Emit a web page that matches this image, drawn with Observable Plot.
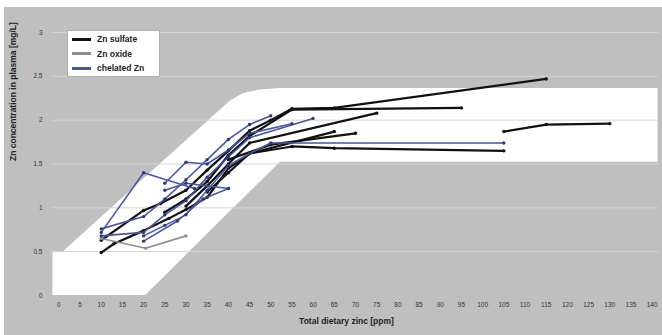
<!DOCTYPE html>
<html>
<head>
<meta charset="utf-8">
<script src="https://cdn.jsdelivr.net/npm/d3@7"></script>
<script src="https://cdn.jsdelivr.net/npm/@observablehq/plot@0.6"></script>
<style>
  html, body { margin: 0; padding: 0; background: #ffffff; }
  #wrap { position: relative; width: 662px; height: 335px; overflow: hidden; font-family: "Liberation Sans", Arial, sans-serif; }
  #wrap svg { display: block; background: #bfbfbf; }
  .strip { position: absolute; background: #ffffff; }
  #legend { position: absolute; left: 67px; top: 30px; width: 93px; height: 47px; background: #ffffff; border: 1px solid #b0b0b0; box-sizing: border-box; }
  .item { position: absolute; left: 4px; height: 10px; display: flex; align-items: center; font-size: 8.5px; font-weight: bold; color: #222; white-space: nowrap; }
  .sw { display: inline-block; width: 19px; height: 3px; margin-right: 6px; }
</style>
</head>
<body>
<div id="wrap"></div>
<script>
// ---- tick labels ----
const xTicks = [0,5,10,15,20,25,30,35,40,45,50,55,60,65,70,75,80,85,90,95,100,105,110,115,120,125,130,135,140];
const yTicks = [0,0.5,1,1.5,2,2.5,3];
const yGrid = [0.5,1,1.5,2,2.5,3];

// ---- background plateau band (white area) ----
const bandX    = [-1.4, 0.9, 20.5, 40.5, 43.5, 47, 52.3, 141.4];
const bandLow  = [0,    0,   0,    0.96, 1.10, 1.27, 1.52, 1.52];
const bandHigh = [0.49, 0.49, 1.35, 2.22, 2.30, 2.34, 2.36, 2.36];

// ---- series: Zn sulfate (black) ----
const sulfateA = [[10,0.49],[13,0.59],[20,0.74],[26,0.88],[30,0.98],[35,1.12],[40,1.45],[45,1.62],[55,1.70],[65,1.68],[105,1.65]];
const sulfateB = [[10,0.63],[20,0.97],[24,1.05],[30,1.2],[35,1.43],[40,1.65],[45,1.88],[50,2.0],[55,2.13],[65,2.14],[115,2.47]];
const sulfateC = [[25,0.95],[30,1.1],[35,1.3],[40,1.6],[45,1.82],[55,2.12],[95,2.14]];
const sulfateD = [[30,1.02],[35,1.25],[40,1.5],[45,1.74],[75,2.08]];
const sulfateE = [[35,1.18],[40,1.4],[45,1.62],[65,1.87]];
const sulfateF = [[40,1.55],[50,1.72],[70,1.85]];
const sulfateG = [[105,1.87],[115,1.95],[130,1.96]];

// ---- series: Zn oxide (gray) ----
const oxideA = [[10,0.65],[20.5,0.54],[30,0.68]];

// ---- series: chelated Zn (blue) ----
const chelA = [[10,0.72],[20,1.40],[32,1.22]];
const chelB = [[10,0.76],[20,0.9],[25,1.1],[30,1.32],[35,1.55],[40,1.78],[45,1.95],[50,2.05]];
const chelC = [[10,0.68],[20,0.72],[25,0.92],[30,1.08],[35,1.35],[40,1.58],[45,1.8],[60,2.02]];
const chelD = [[20,0.68],[25,0.8],[30,0.92],[35,1.2],[40,1.48],[45,1.62],[50,1.74],[105,1.74]];
const chelE = [[25,1.28],[30,1.52],[35,1.5],[40,1.66],[45,1.85],[55,1.96]];
const chelF = [[20,0.62],[28,0.85],[34,1.1],[40,1.22]];
const chelG = [[25,1.2],[30,1.28],[40,1.22]];

(function () {
  const groups = [
    {name: "Zn sulfate", color: "#111111", dot: "#111111", width: 2.2, series: {sulfateA, sulfateB, sulfateC, sulfateD, sulfateE, sulfateF, sulfateG}},
    {name: "Zn oxide", color: "#8e8e8e", dot: "#8e8e8e", width: 1.6, series: {oxideA}},
    {name: "chelated Zn", color: "#4757a6", dot: "#2d3a7a", width: 1.6, series: {chelA, chelB, chelC, chelD, chelE, chelF, chelG}}
  ];

  const band = bandX.map((x, i) => ({x, lo: bandLow[i], hi: bandHigh[i]}));

  const marks = [
    Plot.areaY(band, {x: "x", y1: "lo", y2: "hi", fill: "#ffffff"}),
    Plot.ruleY(yGrid, {stroke: "#d3d3d3", strokeWidth: 1})
  ];
  for (const g of groups) {
    const rows = [];
    for (const [id, pts] of Object.entries(g.series)) {
      for (const [x, y] of pts) rows.push({id, x, y});
    }
    marks.push(Plot.line(rows, {x: "x", y: "y", z: "id", stroke: g.color, strokeWidth: g.width, strokeLinejoin: "round"}));
    marks.push(Plot.dot(rows, {x: "x", y: "y", r: 1.7, fill: g.dot}));
  }
  marks.push(Plot.text(["Total dietary zinc [ppm]"], {frameAnchor: "bottom", dy: 28, dx: -9, fontSize: 8.5, fontWeight: "bold", fill: "#222"}));
  marks.push(Plot.text(["Zn concentration in plasma [mg/L]"], {frameAnchor: "left", rotate: -90, dx: -39, dy: -3, fontSize: 8.5, fontWeight: "bold", fill: "#222"}));

  const chart = Plot.plot({
    width: 662,
    height: 335,
    marginLeft: 52,
    marginRight: 4,
    marginTop: 32,
    marginBottom: 40,
    style: {fontFamily: "Liberation Sans, Arial, sans-serif", color: "#333", background: "#bfbfbf"},
    x: {domain: [-1.5, 141.5], ticks: xTicks, tickSize: 0, tickPadding: 7, label: null, tickFormat: d => String(d)},
    y: {domain: [0, 3], ticks: yTicks, tickSize: 0, tickPadding: 10, label: null, tickFormat: d => String(d)},
    marks
  });
  chart.querySelectorAll("g[aria-label='x-axis tick label'], g[aria-label='y-axis tick label']").forEach(g => g.setAttribute("font-size", "6.5"));

  const wrap = document.getElementById("wrap");
  wrap.appendChild(chart);

  const topStrip = document.createElement("div");
  topStrip.className = "strip"; topStrip.style.cssText = "left:0;top:0;width:662px;height:7px;";
  wrap.appendChild(topStrip);
  const leftStrip = document.createElement("div");
  leftStrip.className = "strip"; leftStrip.style.cssText = "left:0;top:0;width:4px;height:335px;";
  wrap.appendChild(leftStrip);

  const legend = document.createElement("div");
  legend.id = "legend";
  groups.forEach((g, i) => {
    const it = document.createElement("div");
    it.className = "item";
    it.style.top = (3 + i * 14.5) + "px";
    const sw = document.createElement("span");
    sw.className = "sw"; sw.style.background = g.color;
    it.appendChild(sw);
    it.appendChild(document.createTextNode(g.name));
    legend.appendChild(it);
  });
  wrap.appendChild(legend);
})();
</script>
</body>
</html>
